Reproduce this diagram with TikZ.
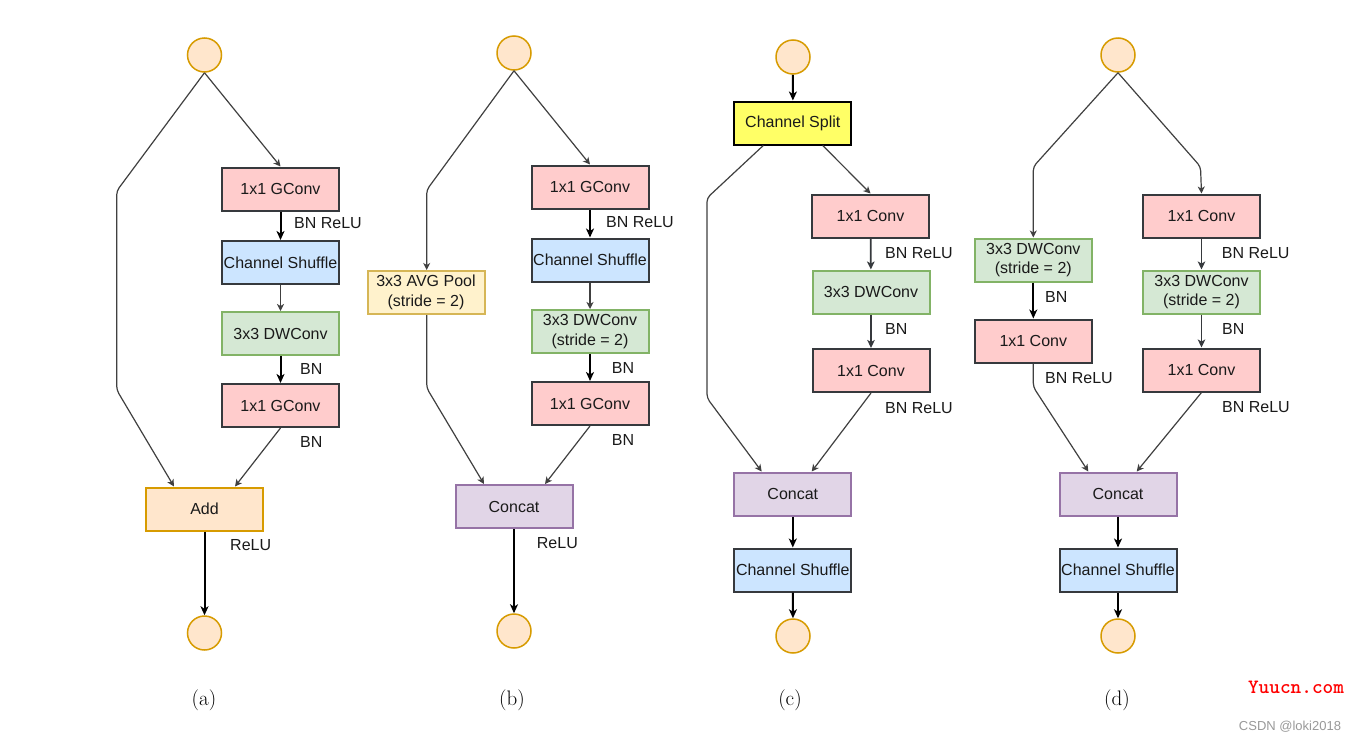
\documentclass[tikz,border=0pt]{standalone}
\usepackage{fontspec}
\newfontfamily\sansf{Liberation Sans}
\usetikzlibrary{arrows.meta}
\definecolor{boxline}{HTML}{36393D}
\definecolor{txt}{HTML}{1A1A1A}
\definecolor{redf}{HTML}{FFCCCC}
\definecolor{bluef}{HTML}{CCE5FF}
\definecolor{greenf}{HTML}{D5E8D4}
\definecolor{greenl}{HTML}{82B366}
\definecolor{orangef}{HTML}{FFE6CC}
\definecolor{orangel}{HTML}{D79B00}
\definecolor{purplef}{HTML}{E1D5E7}
\definecolor{purplel}{HTML}{9673A6}
\definecolor{yellowf}{HTML}{FFF2CC}
\definecolor{yellowl}{HTML}{D6B656}
\definecolor{splitf}{HTML}{FFFF66}
\definecolor{connc}{HTML}{404040}
\definecolor{wmgray}{HTML}{999999}
\definecolor{wmred}{HTML}{FF0000}
\begin{document}
\begin{tikzpicture}[x=1pt,y=-1pt,
  box/.style={draw=boxline, line width=2pt, minimum width=117pt, minimum height=43pt,
    inner sep=0pt, font=\sansf\fontsize{16}{19.5}\selectfont, text=txt, align=center},
  redbox/.style={box, fill=redf},
  bluebox/.style={box, fill=bluef},
  greenbox/.style={box, fill=greenf, draw=greenl},
  addbox/.style={box, fill=orangef, draw=orangel},
  catbox/.style={box, fill=purplef, draw=purplel},
  poolbox/.style={box, fill=yellowf, draw=yellowl},
  splitbox/.style={box, fill=splitf, draw=black},
  io/.style={circle, draw=orangel, fill=orangef, line width=1.5pt, minimum size=34pt, inner sep=0pt},
  conn/.style={draw=connc, line width=1.2pt, rounded corners=4pt, -{Stealth[length=7pt,width=7pt,inset=2pt]}},
  midarrow/.style={draw=boxline, line width=1.8pt, -{Stealth[length=8pt,width=7.5pt,inset=2pt]}},
  strong/.style={draw=black, line width=2pt, -{Stealth[length=9pt,width=8pt,inset=2.5pt]}},
  lab/.style={anchor=west, inner sep=0pt, font=\sansf\fontsize{16}{19}\selectfont, text=txt},
  sub/.style={inner sep=0pt, font=\fontsize{21}{24}\selectfont, text=black}
]
\useasboundingbox (0,0) rectangle (1357,742);
\fill[white] (0,0) rectangle (1357,742);

% ---------------- (a) ----------------
\node[io] (aT) at (204.5,55) {};
\node[redbox] (a1) at (280.5,189) {1x1 GConv};
\node[bluebox] (a2) at (280.5,262.5) {Channel Shuffle};
\node[greenbox] (a3) at (280.5,333.5) {3x3 DWConv};
\node[redbox] (a4) at (280.5,405.5) {1x1 GConv};
\node[addbox] (aA) at (204.5,509) {Add};
\node[io] (aB) at (204.5,633) {};
\coordinate (aL1) at (116.7,191);
\coordinate (aL2) at (116.7,390);
\path[conn] (aT.south) -- (aL1) -- (aL2) -- (174,0 |- aA.north);
\path[conn] (aT.south) -- (a1.north);
\path[strong] (a1) -- (a2);
\path[conn] (a2) -- (a3);
\path[strong] (a3) -- (a4);
\path[conn] (a4.south) -- (235,0 |- aA.north);
\path[strong] (aA) -- (aB);
\node[lab] (aLab1) at (294,223) {BN ReLU};
\node[lab] (aLab2) at (300,369) {BN};
\node[lab] (aLab3) at (300,442) {BN};
\node[lab] (aLab4) at (230,545) {ReLU};
\node[sub] (aSub) at (204,700) {(a)};

% ---------------- (b) ----------------
\node[io] (bT) at (514,53) {};
\node[redbox] (b1) at (590,187) {1x1 GConv};
\node[bluebox] (b2) at (590,260) {Channel Shuffle};
\node[greenbox] (b3) at (590,331.5) {3x3 DWConv\\(stride = 2)};
\node[redbox] (b4) at (590,403.5) {1x1 GConv};
\node[poolbox] (bP) at (426,292.5) {3x3 AVG Pool\\(stride = 2)};
\node[catbox] (bC) at (514,506.5) {Concat};
\node[io] (bB) at (514,631) {};
\coordinate (bL1) at (426.7,190);
\coordinate (bL2) at (426.7,388);
\path[conn] (bT.south) -- (bL1) -- (426.7,0 |- bP.north);
\path[conn] (426.7,0 |- bP.south) -- (bL2) -- (484,0 |- bC.north);
\path[conn] (bT.south) -- (b1.north);
\path[strong] (b1) -- (b2);
\path[conn] (b2) -- (b3);
\path[strong] (b3) -- (b4);
\path[conn] (b4.south) -- (545,0 |- bC.north);
\path[strong] (bC) -- (bB);
\node[lab] (bLab1) at (606,222) {BN ReLU};
\node[lab] (bLab2) at (611.7,368) {BN};
\node[lab] (bLab3) at (611.7,440) {BN};
\node[lab] (bLab4) at (536.7,543) {ReLU};
\node[sub] (bSub) at (512,700) {(b)};

% ---------------- (c) ----------------
\node[io] (cT) at (793,57) {};
\node[splitbox] (cS) at (792.8,123) {Channel Split};
\node[redbox] (c1) at (870.5,216) {1x1 Conv};
\node[greenbox] (c2) at (871,292) {3x3 DWConv};
\node[redbox] (c3) at (871,370.5) {1x1 Conv};
\node[catbox] (cC) at (792.8,494) {Concat};
\node[bluebox] (cH) at (792.8,570) {Channel Shuffle};
\node[io] (cB) at (793,636) {};
\coordinate (cL1) at (707,198);
\coordinate (cL2) at (707,398);
\path[strong] (cT) -- (cS);
\path[conn] (763.3,0 |- cS.south) -- (cL1) -- (cL2) -- (761.7,0 |- cC.north);
\path[conn] (822.7,0 |- cS.south) -- (c1.north);
\path[midarrow] (c1) -- (c2);
\path[midarrow] (c2) -- (c3);
\path[conn] (c3.south) -- (811.7,0 |- cC.north);
\path[strong] (cC) -- (cH);
\path[strong] (cH) -- (cB);
\node[lab] (cLab1) at (885,253) {BN ReLU};
\node[lab] (cLab2) at (885,329) {BN};
\node[lab] (cLab3) at (885,408) {BN ReLU};
\node[sub] (cSub) at (790,700) {(c)};

% ---------------- (d) ----------------
\node[io] (dT) at (1118,55) {};
\node[greenbox] (dL1) at (1033.3,260) {3x3 DWConv\\(stride = 2)};
\node[redbox] (dL2) at (1033.3,341) {1x1 Conv};
\node[redbox] (dR1) at (1201.5,216) {1x1 Conv};
\node[greenbox] (dR2) at (1201.5,292) {3x3 DWConv\\(stride = 2)};
\node[redbox] (dR3) at (1201.5,370) {1x1 Conv};
\node[catbox] (dC) at (1118,494) {Concat};
\node[bluebox] (dH) at (1118,570) {Channel Shuffle};
\node[io] (dB) at (1118,636) {};
\coordinate (dK1) at (1033.3,166.7);
\coordinate (dK2) at (1200.5,166.7);
\coordinate (dK3) at (1033.3,387);
\path[conn] (dT.south) -- (dK1) -- (dL1.north);
\path[conn] (dT.south) -- (dK2) -- (dR1.north);
\path[strong] (dL1) -- (dL2);
\path[midarrow] (dR1) -- (dR2);
\path[midarrow] (dR2) -- (dR3);
\path[conn] (dL2.south) -- (dK3) -- (1088.3,0 |- dC.north);
\path[conn] (dR3.south) -- (1136.7,0 |- dC.north);
\path[strong] (dC) -- (dH);
\path[strong] (dH) -- (dB);
\node[lab] (dLab1) at (1045,297) {BN};
\node[lab] (dLab2) at (1045,378) {BN ReLU};
\node[lab] (dLab3) at (1221.7,253) {BN ReLU};
\node[lab] (dLab4) at (1222,329) {BN};
\node[lab] (dLab5) at (1222,407) {BN ReLU};
\node[sub] (dSub) at (1117,700) {(d)};

% ---------------- watermarks ----------------
\node[inner sep=0pt, text=wmred, font=\ttfamily\bfseries\fontsize{20.3}{23}\selectfont] (wm1) at (1296,687) {Yuucn.com};
\node[inner sep=0pt, text=wmgray, font=\sansf\fontsize{13}{15}\selectfont] (wm2) at (1290,727) {CSDN @loki2018};
\end{tikzpicture}
\end{document}
